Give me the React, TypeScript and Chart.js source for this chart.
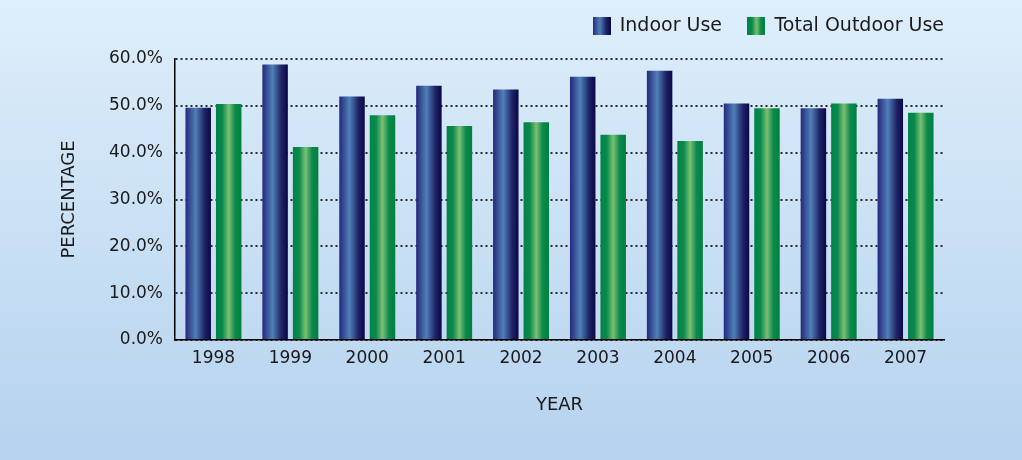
import React, { useEffect, useRef } from "react";
import { Chart, registerables } from "chart.js";

Chart.register(...registerables);

const years = ["1998", "1999", "2000", "2001", "2002", "2003", "2004", "2005", "2006", "2007"];
const indoorUse = [49.6, 58.8, 52.0, 54.3, 53.5, 56.2, 57.5, 50.5, 49.5, 51.5];
const outdoorUse = [50.4, 41.2, 48.0, 45.7, 46.5, 43.8, 42.5, 49.5, 50.5, 48.5];
const seriesNames = ["Indoor Use", "Total Outdoor Use"];
const yTicks = [0, 10, 20, 30, 40, 50, 60];

const indoorStops: [number, string][] = [
  [0, "#25287c"],
  [0.4, "#4f80b8"],
  [0.75, "#1e2366"],
  [1, "#0b0744"],
];
const outdoorStops: [number, string][] = [
  [0, "#008248"],
  [0.25, "#0a8a4c"],
  [0.5, "#7cbf74"],
  [0.75, "#0a8a4c"],
  [1, "#007f40"],
];

function makeGrad(ctx: CanvasRenderingContext2D, x0: number, x1: number, stops: [number, string][]) {
  const g = ctx.createLinearGradient(x0, 0, x1, 0);
  stops.forEach(([o, c]) => g.addColorStop(o, c));
  return g;
}

function makeSwatch(stops: [number, string][]) {
  const c = document.createElement("canvas");
  c.width = 18;
  c.height = 18;
  const ctx = c.getContext("2d")!;
  ctx.fillStyle = makeGrad(ctx, 0, 18, stops);
  ctx.fillRect(0, 0, 18, 18);
  return c;
}

const FONT = "'DejaVu Sans', sans-serif";

export default function App() {
  const ref = useRef<HTMLCanvasElement | null>(null);

  useEffect(() => {
    document.body.style.margin = "0";
    const canvas = ref.current!;
    const swatches = [makeSwatch(indoorStops), makeSwatch(outdoorStops)];
    const stopsList = [indoorStops, outdoorStops];

    const bgPlugin = {
      id: "bg",
      beforeDraw(chart: any) {
        const { ctx, width, height } = chart;
        const g = ctx.createLinearGradient(0, 0, 0, height);
        g.addColorStop(0, "#deeefb");
        g.addColorStop(1, "#b5d2ee");
        ctx.save();
        ctx.fillStyle = g;
        ctx.fillRect(0, 0, width, height);
        ctx.restore();
      },
    };

    const barGradPlugin = {
      id: "barGrad",
      beforeDatasetsDraw(chart: any) {
        const ctx = chart.ctx;
        chart.data.datasets.forEach((_: any, di: number) => {
          const meta = chart.getDatasetMeta(di);
          meta.data.forEach((bar: any) => {
            const { x, width } = bar.getProps(["x", "width"], true);
            bar.options.backgroundColor = makeGrad(ctx, x - width / 2, x + width / 2, stopsList[di]);
          });
        });
      },
    };

    const spacer = (pos: string, size: number) => ({
      position: pos,
      display: true,
      grid: { display: false, drawTicks: false },
      border: { display: false },
      ticks: { display: false },
      afterFit: (s: any) => {
        if (pos === "top") s.height = size;
        else s.width = size;
      },
    });

    const chart = new Chart(canvas, {
      type: "bar",
      data: {
        labels: years,
        datasets: [
          {
            label: seriesNames[0],
            data: indoorUse,
            backgroundColor: () => "#25287c",
            borderWidth: 0,
            categoryPercentage: 0.793,
            barPercentage: 0.836,
          },
          {
            label: seriesNames[1],
            data: outdoorUse,
            backgroundColor: () => "#008248",
            borderWidth: 0,
            categoryPercentage: 0.793,
            barPercentage: 0.836,
          },
        ],
      },
      options: {
        responsive: false,
        animation: false,
        layout: { padding: { left: 55, right: 52, top: -9.5, bottom: 40 } },
        plugins: {
          tooltip: { enabled: false },
          legend: {
            position: "top",
            align: "end",
            labels: {
              usePointStyle: true,
              boxWidth: 17,
              padding: 26,
              color: "#1a1a1a",
              font: { family: FONT, size: 19 },
              generateLabels: (c: any) =>
                c.data.datasets.map((d: any, i: number) => ({
                  text: d.label,
                  pointStyle: swatches[i],
                  fillStyle: "transparent",
                  strokeStyle: "transparent",
                  lineWidth: 0,
                  hidden: false,
                  datasetIndex: i,
                  fontColor: "#1a1a1a",
                })),
            },
          },
        },
        scales: {
          x: {
            grid: { display: false, drawTicks: false },
            border: { display: true, color: "#000", width: 1.5 },
            ticks: { color: "#1a1a1a", font: { family: FONT, size: 17 }, padding: 8 },
            title: { display: true, text: "YEAR", color: "#1a1a1a", font: { family: FONT, size: 18 } },
            afterFit: (s: any) => {
              s.height = 80;
            },
          },
          y: {
            min: 0,
            max: 60,
            afterBuildTicks: (s: any) => {
              s.ticks = yTicks.map((v) => ({ value: v }));
            },
            grid: {
              drawTicks: false,
              color: "#2a2a2a",
              lineWidth: 2,
            },
            border: { display: true, color: "#000", width: 1.5, dash: [2, 3] } as any,
            ticks: {
              color: "#1a1a1a",
              font: { family: FONT, size: 17 },
              padding: 12,
              callback: (v: any) => Number(v).toFixed(1) + "%",
            },
            title: { display: true, text: "PERCENTAGE", color: "#1a1a1a", font: { family: FONT, size: 18 } },
            afterFit: (s: any) => {
              s.width = 120;
            },
          },
          padRight: spacer("right", 26),
          padTop: spacer("top", 13.5),
        },
      } as any,
      plugins: [bgPlugin, barGradPlugin],
    });
    return () => chart.destroy();
  }, []);

  return (
    <div style={{ width: 1022, height: 460 }}>
      <canvas ref={ref} width={1022} height={460} style={{ display: "block" }} />
    </div>
  );
}
